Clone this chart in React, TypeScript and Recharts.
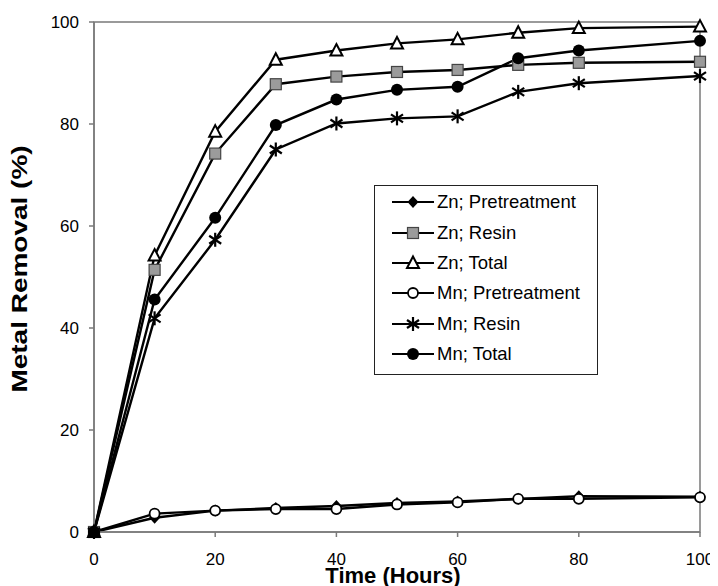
import React from "react";
import {
  LineChart,
  Line,
  XAxis,
  YAxis,
  Legend,
  ReferenceArea,
} from "recharts";

const hours = [0, 10, 20, 30, 40, 50, 60, 70, 80, 100];
const znPretreatment = [0, 2.8, 4.2, 4.7, 5.1, 5.7, 6.0, 6.5, 7.0, 6.9];
const znResin = [0, 51.4, 74.2, 87.8, 89.3, 90.2, 90.6, 91.6, 92.0, 92.2];
const znTotal = [0, 54.2, 78.5, 92.6, 94.4, 95.8, 96.6, 97.9, 98.8, 99.1];
const mnPretreatment = [0, 3.6, 4.2, 4.5, 4.5, 5.4, 5.8, 6.5, 6.5, 6.8];
const mnResin = [0, 41.9, 57.3, 75.0, 80.1, 81.1, 81.5, 86.3, 88.0, 89.4];
const mnTotal = [0, 45.6, 61.6, 79.8, 84.8, 86.7, 87.3, 92.9, 94.4, 96.3];

const xTicks = [0, 20, 40, 60, 80, 100];
const yTicks = [0, 20, 40, 60, 80, 100];

const data = hours.map((h, i) => ({
  hours: h,
  znPre: znPretreatment[i],
  znResin: znResin[i],
  znTotal: znTotal[i],
  mnPre: mnPretreatment[i],
  mnResin: mnResin[i],
  mnTotal: mnTotal[i],
}));

const FONT = "'Liberation Sans', Arial, Helvetica, sans-serif";
const AXIS = "#7a7a7a";

type Shape = "diamond" | "square" | "triangle" | "circleOpen" | "star" | "circle";

// draws one marker centred on (cx, cy)
function Marker({ shape, cx, cy }: { shape: Shape; cx: number; cy: number }) {
  switch (shape) {
    case "diamond":
      return (
        <path
          d={`M${cx},${cy - 6}L${cx + 5.5},${cy}L${cx},${cy + 6}L${cx - 5.5},${cy}Z`}
          fill="#000"
        />
      );
    case "square":
      return (
        <rect x={cx - 5.5} y={cy - 5.5} width={11} height={11} fill="#9b9b9b" stroke="#444" strokeWidth={1.2} />
      );
    case "triangle":
      return (
        <path
          d={`M${cx},${cy - 6.5}L${cx + 6},${cy + 5}L${cx - 6},${cy + 5}Z`}
          fill="#fff"
          stroke="#000"
          strokeWidth={2}
        />
      );
    case "circleOpen":
      return <circle cx={cx} cy={cy} r={5} fill="#fff" stroke="#000" strokeWidth={1.8} />;
    case "star":
      return (
        <g stroke="#000" strokeWidth={2.2}>
          <line x1={cx} y1={cy - 7} x2={cx} y2={cy + 7} />
          <line x1={cx - 6} y1={cy - 4} x2={cx + 6} y2={cy + 4} />
          <line x1={cx - 6} y1={cy + 4} x2={cx + 6} y2={cy - 4} />
        </g>
      );
    default:
      return <circle cx={cx} cy={cy} r={6} fill="#000" />;
  }
}

const dotFor = (shape: Shape) => (props: any) => (
  <Marker key={`${shape}-${props.index}`} shape={shape} cx={props.cx} cy={props.cy} />
);

const series: { key: string; name: string; shape: Shape }[] = [
  { key: "znPre", name: "Zn; Pretreatment", shape: "diamond" },
  { key: "znResin", name: "Zn; Resin", shape: "square" },
  { key: "znTotal", name: "Zn; Total", shape: "triangle" },
  { key: "mnPre", name: "Mn; Pretreatment", shape: "circleOpen" },
  { key: "mnResin", name: "Mn; Resin", shape: "star" },
  { key: "mnTotal", name: "Mn; Total", shape: "circle" },
];

const LegendBox = () => (
  <div
    style={{
      width: 224,
      height: 190,
      boxSizing: "border-box",
      border: "1.5px solid #222",
      background: "#fff",
      paddingTop: 1,
      fontFamily: FONT,
      fontSize: 18.5,
      color: "#000",
    }}
  >
    {series.map((s) => (
      <div key={s.key} style={{ display: "flex", alignItems: "center", height: 30.4 }}>
        <svg width={62} height={20} style={{ flexShrink: 0 }}>
          <line x1={17} y1={10} x2={59} y2={10} stroke="#000" strokeWidth={2.2} />
          <Marker shape={s.shape} cx={38} cy={10} />
        </svg>
        <span>{s.name}</span>
      </div>
    ))}
  </div>
);

export default function App() {
  return (
    <LineChart
      width={710}
      height={578}
      data={data}
      margin={{ top: 14, right: 18, bottom: 0, left: 0 }}
    >
      <ReferenceArea x1={0} x2={100} y1={0} y2={100} fill="none" stroke={AXIS} strokeWidth={1.5} />
      <XAxis
        dataKey="hours"
        type="number"
        domain={[0, 100]}
        ticks={xTicks}
        height={54}
        stroke={AXIS}
        strokeWidth={1.5}
        tickSize={5}
        tickMargin={16}
        tick={{ fill: "#000", fontSize: 17, fontFamily: FONT }}
        label={{
          content: ({ viewBox }: any) => (
            <text
              x={viewBox.x + viewBox.width / 2 - 4}
              y={viewBox.y + 51}
              textAnchor="middle"
              fontFamily={FONT}
              fontWeight="bold"
              fontSize={22}
              fill="#000"
            >
              Time (Hours)
            </text>
          ),
        }}
      />
      <YAxis
        type="number"
        domain={[0, 100]}
        ticks={yTicks}
        width={86}
        stroke={AXIS}
        strokeWidth={1.5}
        tickSize={5}
        tickMargin={10}
        tick={{ fill: "#000", fontSize: 17, fontFamily: FONT }}
        label={{
          content: ({ viewBox }: any) => (
            <text
              transform={`translate(${19},${viewBox.y + viewBox.height / 2 - 8}) rotate(-90) scale(1,0.78)`}
              textAnchor="middle"
              fontFamily={FONT}
              fontWeight="bold"
              fontSize={28}
              fill="#000"
            >
              Metal Removal (%)
            </text>
          ),
        }}
      />
      <Legend
        layout="vertical"
        align="center"
        verticalAlign="middle"
        content={() => <LegendBox />}
        wrapperStyle={{ position: "absolute", left: 366, top: 177, width: 224 }}
      />
      {series.map((s) => (
        <Line
          key={s.key}
          type="linear"
          dataKey={s.key}
          name={s.name}
          stroke="#000"
          strokeWidth={2.4}
          dot={dotFor(s.shape)}
          activeDot={false}
          isAnimationActive={false}
        />
      ))}
    </LineChart>
  );
}
